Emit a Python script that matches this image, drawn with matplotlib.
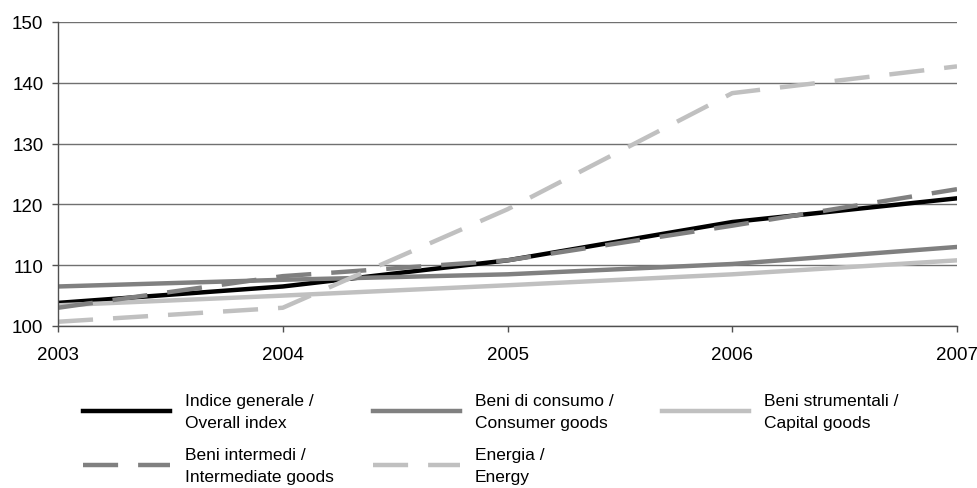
import matplotlib.pyplot as plt

plt.rcParams['font.family'] = ['Liberation Sans', 'DejaVu Sans']

# Data
years = [2003, 2004, 2005, 2006, 2007]
overall = [103.8, 106.5, 110.8, 117.1, 121.0]
consumer = [106.5, 107.6, 108.5, 110.2, 113.0]
capital = [103.4, 105.0, 106.7, 108.5, 110.8]
intermediate = [103.0, 108.2, 110.8, 116.5, 122.5]
energy = [100.7, 103.0, 119.2, 138.3, 142.7]

labels = [
    "Indice generale /\nOverall index",
    "Beni di consumo /\nConsumer goods",
    "Beni strumentali /\nCapital goods",
    "Beni intermedi /\nIntermediate goods",
    "Energia /\nEnergy",
]

dark = "#808080"
light = "#c0c0c0"
dash = (7.9, 4.5)

W, H = 978, 489
fig = plt.figure(figsize=(W / 100, H / 100), dpi=100)
ax = fig.add_axes([58 / W, 1 - 327 / H, (957 - 58) / W, (327 - 23) / H])

l1, = ax.plot(years, overall, color="black", lw=3.2, label=labels[0])
l2, = ax.plot(years, consumer, color=dark, lw=3.2, label=labels[1])
l3, = ax.plot(years, capital, color=light, lw=3.2, label=labels[2])
l4, = ax.plot(years, intermediate, color=dark, lw=3.2, dashes=dash, label=labels[3])
l5, = ax.plot(years, energy, color=light, lw=3.2, dashes=dash, label=labels[4])

ax.set_xlim(2003, 2007)
ax.set_ylim(100, 150)
ax.set_xticks(years)
ax.set_yticks(range(100, 151, 10))
ax.yaxis.grid(True, color="#707070", lw=1)
ax.set_axisbelow(True)

for s in ["top", "right"]:
    ax.spines[s].set_visible(False)
for s in ["left", "bottom"]:
    ax.spines[s].set_color("#505050")
    ax.spines[s].set_linewidth(1)

ax.tick_params(axis="both", labelsize=13.5, colors="#505050", labelcolor="black",
               length=4.5, width=1)
ax.tick_params(axis="x", pad=10)
ax.tick_params(axis="y", pad=6)

# one legend per column, rows read across like the original
columns = [([l1, l4], [labels[0], labels[3]]),
           ([l2, l5], [labels[1], labels[4]]),
           ([l3], [labels[2]])]
col_x = [83, 373, 662]
for (hs, ls), x in zip(columns, col_x):
    leg = fig.legend(hs, ls, loc="upper left", bbox_to_anchor=(x / W, 1 - 394 / H),
                     frameon=False, fontsize=12.5, handlelength=5.0,
                     handletextpad=0.85, labelspacing=1.0, borderpad=0,
                     borderaxespad=0)
    for t in leg.get_texts():
        t.set_linespacing(1.55)

fig.savefig("out.png", dpi=100)
